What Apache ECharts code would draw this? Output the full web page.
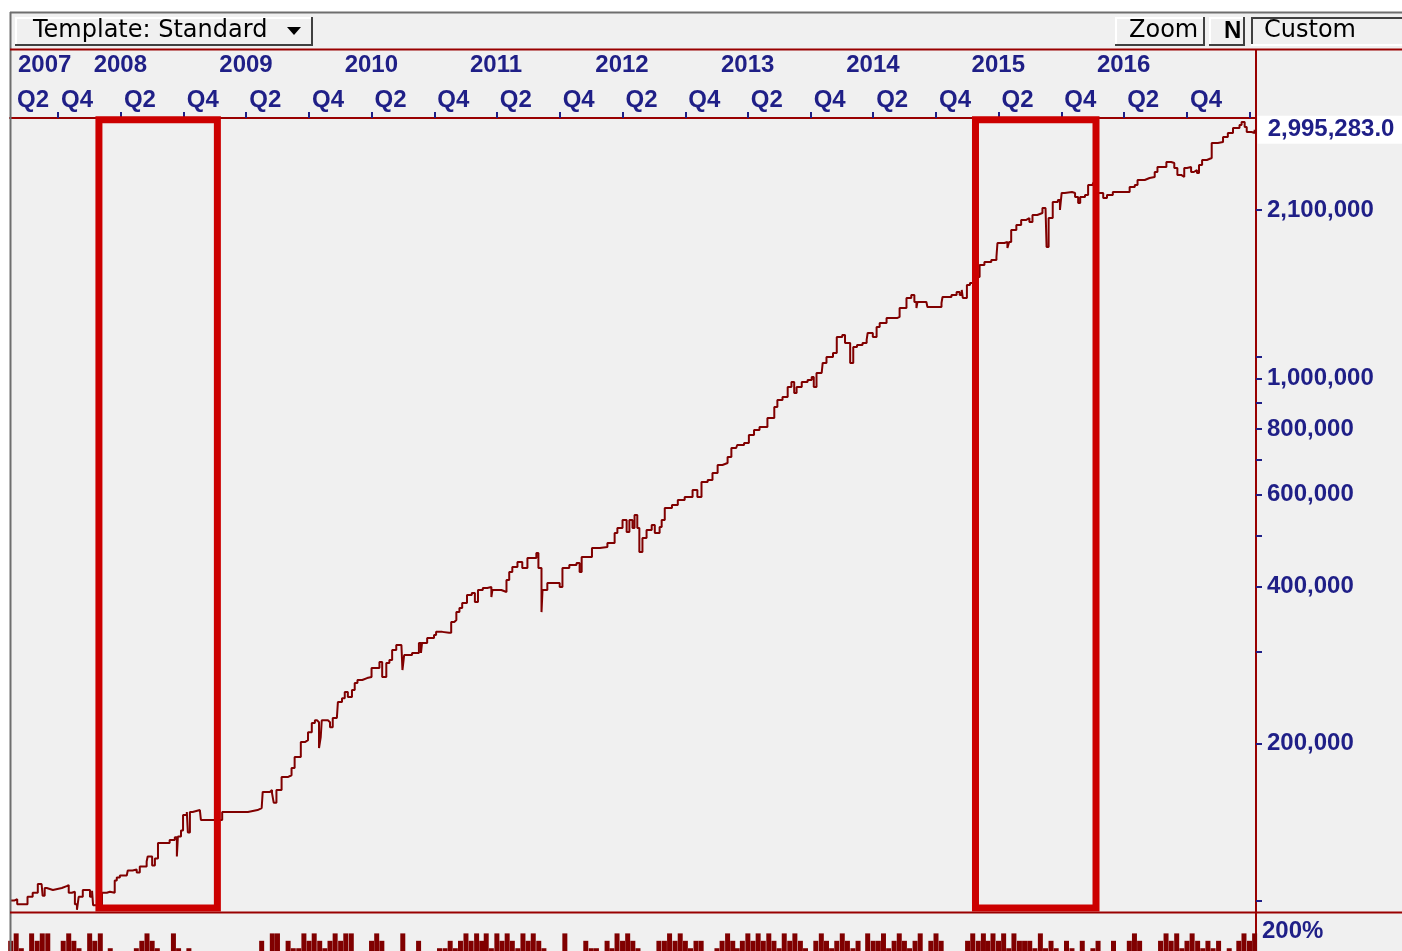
<!DOCTYPE html>
<html><head><meta charset="utf-8">
<script src="https://cdn.jsdelivr.net/npm/echarts@6/dist/echarts.min.js"></script>
<style>html,body{margin:0;padding:0;background:#fff}#chart{width:1402px;height:951px}</style>
</head><body><div id="chart"></div>
<script>
// ---------------- data ----------------
const axisStart = '2007-05-14';
const axisEnd = '2017-04-20';

const equityDates = [
'2007-05-14','2007-05-26','2007-06-04','2007-06-25','2007-07-04','2007-07-19','2007-08-03','2007-08-14','2007-08-17','2007-08-23',
'2007-08-29','2007-09-16','2007-10-12','2007-10-26','2007-11-01','2007-11-10','2007-11-19','2007-11-25','2007-11-30','2007-12-12',
'2007-12-24','2008-01-02','2008-01-08','2008-01-11','2008-02-06','2008-02-20','2008-02-29','2008-03-14','2008-03-20','2008-03-29',
'2008-04-18','2008-04-21','2008-05-05','2008-05-17','2008-05-26','2008-06-15','2008-06-18','2008-07-01','2008-07-09','2008-07-18',
'2008-08-21','2008-09-05','2008-09-11','2008-09-14','2008-09-23','2008-09-29','2008-10-10','2008-10-13','2008-10-19','2008-10-27',
'2008-11-17','2008-11-20','2008-12-23','2009-01-21','2009-04-06','2009-04-11','2009-05-04','2009-05-16','2009-05-19','2009-06-09',
'2009-06-15','2009-06-20','2009-06-28','2009-07-07','2009-07-13','2009-07-31','2009-08-11','2009-08-20','2009-08-29','2009-09-07',
'2009-09-19','2009-09-28','2009-10-09','2009-10-18','2009-10-24','2009-10-30','2009-11-04','2009-11-07','2009-11-25','2009-12-01',
'2009-12-09','2009-12-21','2009-12-24','2010-01-05','2010-01-13','2010-01-22','2010-02-03','2010-02-11','2010-02-19','2010-03-05',
'2010-03-19','2010-04-01','2010-04-15','2010-04-24','2010-05-02','2010-05-14','2010-05-23','2010-05-31','2010-06-12','2010-06-27',
'2010-06-30','2010-07-05','2010-07-28','2010-08-17','2010-08-23','2010-08-26','2010-09-10','2010-09-30','2010-10-06','2010-10-24',
'2010-11-13','2010-11-19','2010-11-28','2010-12-04','2010-12-13','2010-12-21','2011-01-04','2011-01-18','2011-01-27','2011-02-05',
'2011-02-19','2011-03-04','2011-03-16','2011-03-19','2011-04-14','2011-04-29','2011-05-07','2011-05-16','2011-05-31','2011-06-14',
'2011-06-29','2011-07-19','2011-07-25','2011-07-31','2011-08-09','2011-08-12','2011-08-26','2011-09-21','2011-10-01','2011-10-09',
'2011-10-29','2011-11-19','2011-11-28','2011-12-04','2011-12-19','2012-01-03','2012-01-26','2012-02-17','2012-03-09','2012-03-17',
'2012-04-01','2012-04-13','2012-04-21','2012-04-30','2012-05-06','2012-05-14','2012-05-20','2012-05-29','2012-06-10','2012-06-25',
'2012-07-04','2012-07-18','2012-07-24','2012-08-02','2012-08-23','2012-09-09','2012-09-29','2012-10-22','2012-11-05','2012-11-17',
'2012-12-05','2012-12-19','2013-01-03','2013-01-17','2013-02-01','2013-02-12','2013-02-26','2013-03-01','2013-03-21','2013-04-04',
'2013-04-19','2013-05-05','2013-05-28','2013-06-17','2013-06-26','2013-07-11','2013-07-26','2013-08-06','2013-08-14','2013-08-21',
'2013-09-05','2013-09-22','2013-10-04','2013-10-10','2013-10-18','2013-11-02','2013-11-05','2013-11-16','2013-12-05','2013-12-16',
'2014-01-01','2014-01-09','2014-01-24','2014-02-02','2014-02-13','2014-03-01','2014-03-13','2014-03-16','2014-03-31','2014-04-11',
'2014-04-20','2014-05-10','2014-05-27','2014-06-11','2014-06-17','2014-07-07','2014-07-21','2014-07-30','2014-08-05','2014-08-08',
'2014-09-03','2014-09-06','2014-09-27','2014-10-17','2014-10-20','2014-11-15','2014-11-30','2014-12-09','2014-12-15','2014-12-18',
'2014-12-30','2015-01-08','2015-01-22','2015-02-05','2015-02-19','2015-03-11','2015-03-26','2015-03-29','2015-04-18','2015-04-27',
'2015-05-02','2015-05-08','2015-05-23','2015-06-06','2015-06-21','2015-06-30','2015-07-09','2015-07-23','2015-08-07','2015-08-16',
'2015-08-19','2015-08-25','2015-09-06','2015-09-21','2015-09-27','2015-10-02','2015-10-11','2015-11-01','2015-11-10','2015-11-19',
'2015-11-25','2015-12-09','2015-12-18','2016-01-01','2016-01-15','2016-01-31','2016-02-11','2016-02-28','2016-04-03','2016-04-17',
'2016-05-02','2016-05-10','2016-05-31','2016-06-14','2016-06-29','2016-07-07','2016-08-02','2016-08-16','2016-08-25','2016-09-03',
'2016-09-14','2016-09-23','2016-10-01','2016-10-13','2016-10-21','2016-10-30','2016-11-05','2016-11-14','2016-11-28','2016-12-12',
'2016-12-30','2017-01-14','2017-01-28','2017-02-12','2017-03-03','2017-03-09','2017-03-18','2017-03-24','2017-04-07','2017-04-16'
];
const equityValues = [
100000,100600,98400,98400,101700,103500,107600,108100,102200,105700,
104800,105700,106600,107100,103500,104000,98400,96000,101700,104800,
104800,101700,104400,98000,103500,104000,103500,109300,110700,111700,
111700,114200,114700,113200,116200,118800,121500,116700,120400,128900,
130600,132200,121500,132700,136300,145800,147800,135100,147800,149100,
149100,142700,142700,147800,147800,149100,150400,150400,161500,162900,
160800,154000,162900,162900,172400,173800,179400,188300,188300,201200,
202900,210200,218800,221500,219600,196000,205700,221500,219600,214900,
223700,224700,240000,244200,250800,245400,253000,261000,264500,266800,
268000,278800,278800,286300,268000,285100,289000,301900,308600,308600,
276400,295300,298000,311300,298000,311300,318300,322800,327100,325700,
325700,341600,344600,356900,363400,371500,384800,388300,373200,393400,
397000,398700,381400,393400,390000,411100,425900,435400,445100,433400,
453000,453000,463100,433400,356900,393400,405700,405700,398700,433400,
439200,443100,425900,455000,455000,473400,475500,484000,505900,517100,
535700,508100,535700,517100,547600,517100,465100,494800,512600,524000,
505900,519400,535700,564800,572400,585100,592900,611500,592900,633400,
639100,659100,682800,688800,707200,735900,735900,745700,752400,779400,
796700,807300,840000,881800,909500,921500,963100,984600,938000,963100,
984600,993400,1006600,963100,1024500,1029000,1070800,1099400,1119000,1200800,
1211500,1169500,1070800,1148900,1159200,1169500,1185100,1222300,1200800,1254900,
1277400,1305800,1305800,1311600,1364600,1426100,1445200,1401100,1364600,1401100,
1401100,1370600,1370600,1395100,1432400,1445200,1464400,1445200,1477500,1426100,
1510400,1523800,1564600,1649600,1671500,1686500,1708800,1817700,1825600,1778000,
1825600,1925000,1967900,2011800,2029500,1994000,2056700,2074900,2121000,2130400,
1785800,2030000,2177800,2197300,2102500,2266200,2276000,2266200,2226400,2168400,
2226400,2246300,2347500,2368300,2266200,2216700,2246300,2276000,2276000,2326800,
2347500,2399900,2421000,2432000,2486000,2541300,2598000,2586600,2530000,2453400,
2432000,2530000,2541300,2486000,2508000,2475000,2564100,2621200,2644000,2825300,
2838000,2900800,2952700,3018400,3058800,3099300,3032000,2966000,2952700,2995283
];

// highlighted periods (red frames)
const highlightStarts = ['2008-01-28', '2015-01-24'];
const highlightEnds = ['2009-01-07', '2016-01-10'];

// lower panel (percent bars, clipped at the window edge)
const exposureMonths = [
'2007-05','2007-06','2007-07','2007-08','2007-09','2007-10','2007-11','2007-12',
'2008-01','2008-02','2008-03','2008-04','2008-05','2008-06','2008-07','2008-08','2008-09','2008-10','2008-11','2008-12',
'2009-01','2009-02','2009-03','2009-04','2009-05','2009-06','2009-07','2009-08','2009-09','2009-10','2009-11','2009-12',
'2010-01','2010-02','2010-03','2010-04','2010-05','2010-06','2010-07','2010-08','2010-09','2010-10','2010-11','2010-12',
'2011-01','2011-02','2011-03','2011-04','2011-05','2011-06','2011-07','2011-08','2011-09','2011-10','2011-11','2011-12',
'2012-01','2012-02','2012-03','2012-04','2012-05','2012-06','2012-07','2012-08','2012-09','2012-10','2012-11','2012-12',
'2013-01','2013-02','2013-03','2013-04','2013-05','2013-06','2013-07','2013-08','2013-09','2013-10','2013-11','2013-12',
'2014-01','2014-02','2014-03','2014-04','2014-05','2014-06','2014-07','2014-08','2014-09','2014-10','2014-11','2014-12',
'2015-01','2015-02','2015-03','2015-04','2015-05','2015-06','2015-07','2015-08','2015-09','2015-10','2015-11','2015-12',
'2016-01','2016-02','2016-03','2016-04','2016-05','2016-06','2016-07','2016-08','2016-09','2016-10','2016-11','2016-12',
'2017-01','2017-02','2017-03','2017-04'
];
const exposureEarly = [
0,178,0,170,178,0,178,162,
178,178,162,0,0,170,170,0,178,0,0,0,
0,0,0,0,0,0,178,170,162,170,170,170,
170,178,0,170,170,0,178,0,0,0,162,162,
178,178,178,178,178,162,170,170,0,0,0,0,
162,0,162,170,170,0,0,170,170,170,170,0,
162,178,162,178,178,178,162,170,170,0,178,162,
178,162,0,170,178,170,170,170,0,178,0,0,
170,170,170,170,162,170,170,178,170,0,162,170,
162,0,170,0,178,0,0,178,178,170,170,170,
170,162,170,170
];
const exposureLate = [
170,162,178,178,0,170,170,0,
170,0,0,0,162,178,162,0,162,162,0,0,
0,0,0,0,170,178,0,162,178,178,162,178,
178,0,0,178,0,0,0,170,0,162,170,170,
170,170,162,170,170,178,178,162,0,178,0,170,
162,170,178,178,162,0,170,178,178,162,170,0,
170,170,170,170,170,170,178,178,162,170,170,170,
170,170,178,170,162,178,162,178,170,170,0,0,
178,178,178,178,178,170,162,162,162,170,0,0,
170,0,0,170,170,0,170,170,162,178,162,162,
0,0,178,178
];

// axis ticks / labels
const quarterTickDates = ['2007-10-01','2008-04-01','2008-10-01','2009-04-01','2009-10-01','2010-04-01','2010-10-01','2011-04-01','2011-10-01','2012-04-01','2012-10-01','2013-04-01','2013-10-01','2014-04-01','2014-10-01','2015-04-01','2015-10-01','2016-04-01','2016-10-01','2017-04-01'];
const quarterLabelDates = ['2007-05-14','2007-10-01','2008-04-01','2008-10-01','2009-04-01','2009-10-01','2010-04-01','2010-10-01','2011-04-01','2011-10-01','2012-04-01','2012-10-01','2013-04-01','2013-10-01','2014-04-01','2014-10-01','2015-04-01','2015-10-01','2016-04-01','2016-10-01'];
const yearLabelDates = ['2007-05-14','2008-01-01','2009-01-01','2010-01-01','2011-01-01','2012-01-01','2013-01-01','2014-01-01','2015-01-01','2016-01-01'];
const yTickValues = [100000,200000,300000,400000,500000,600000,700000,800000,900000,1000000,1100000,2100000];
const yLabelValues = [200000,400000,600000,800000,1000000,2100000];
const yMin = 95100, yMax = 3154000;
const exposureLabelValues = [200];
const exposureMin = 159, exposureMax = 200;

// ---------------- chart ----------------
const NAVY = '#1f1f87';
const AXRED = '#990000';
const LINE = '#800000';
const FONT = '"Liberation Sans", Arial, sans-serif';
const UI_FONT = '"DejaVu Sans", Verdana, sans-serif';
const ts = s => Date.parse(s);
const xMin = ts(axisStart), xMax = ts(axisEnd);
function commas(n, dec) {
  const s = dec ? n.toFixed(dec) : String(Math.round(n));
  const parts = s.split('.');
  parts[0] = parts[0].replace(/\B(?=(\d{3})+(?!\d))/g, ',');
  return parts.join('.');
}
const labelText = { color: NAVY, fontFamily: FONT, fontWeight: 'bold', fontSize: 24 };
const firstRich = { first: Object.assign({ padding: [0, 0, 0, 4] }, labelText) };

const equityData = equityDates.map((d, i) => [ts(d), equityValues[i]]);
const barData = [];
exposureMonths.forEach((m, i) => {
  barData.push([ts(m + '-01'), exposureEarly[i] || null]);
  barData.push([ts(m + '-16'), exposureLate[i] || null]);
});
const areas = highlightStarts.map((s, i) => [
  { xAxis: ts(s), yAxis: 3130000 },
  { xAxis: ts(highlightEnds[i]), yAxis: 96800 }
]);

function btn(x, y, w, h, sunken) {
  const light = sunken ? '#404040' : '#ffffff';
  const dark = sunken ? '#ffffff' : '#404040';
  return [
    { type: 'rect', shape: { x, y, width: w, height: h }, style: { fill: '#f0f0f0' }, z: 1 },
    { type: 'line', shape: { x1: x, y1: y + 1, x2: x + w, y2: y + 1 }, style: { stroke: light, lineWidth: 2 }, z: 2 },
    { type: 'line', shape: { x1: x + 1, y1: y, x2: x + 1, y2: y + h }, style: { stroke: light, lineWidth: 2 }, z: 2 },
    { type: 'line', shape: { x1: x, y1: y + h - 1, x2: x + w, y2: y + h - 1 }, style: { stroke: dark, lineWidth: 2 }, z: 2 },
    { type: 'line', shape: { x1: x + w - 1, y1: y, x2: x + w - 1, y2: y + h }, style: { stroke: dark, lineWidth: 2 }, z: 2 }
  ];
}
function txt(x, y, text, font, weight) {
  return { type: 'text', x, y, z: 3, style: { text, fill: '#000', fontFamily: font, fontSize: 24, fontWeight: weight || 'normal', textVerticalAlign: 'middle', verticalAlign: 'middle' } };
}

const graphics = [
  { type: 'rect', shape: { x: 10, y: 12, width: 1392, height: 939 }, style: { fill: '#f0f0f0' }, z: -100 },
  { type: 'line', shape: { x1: 10, y1: 12.5, x2: 1402, y2: 12.5 }, style: { stroke: '#6e6e6e', lineWidth: 2 }, z: 5 },
  { type: 'line', shape: { x1: 10.5, y1: 12, x2: 10.5, y2: 951 }, style: { stroke: '#6e6e6e', lineWidth: 2 }, z: 5 },
  { type: 'line', shape: { x1: 10, y1: 49.5, x2: 1402, y2: 49.5 }, style: { stroke: AXRED, lineWidth: 2 }, z: 5 },
  { type: 'line', shape: { x1: 1256, y1: 49, x2: 1256, y2: 118 }, style: { stroke: AXRED, lineWidth: 2 }, z: 5 },
  { type: 'line', shape: { x1: 10, y1: 912.5, x2: 1402, y2: 912.5 }, style: { stroke: AXRED, lineWidth: 2 }, z: 5 },
  ...btn(15, 17, 298, 29, false),
  txt(33, 31, 'Template: Standard', UI_FONT),
  { type: 'polygon', shape: { points: [[287, 27], [301, 27], [294, 35]] }, style: { fill: '#000' }, z: 3 },
  ...btn(1115, 17, 90, 29, false),
  txt(1129, 31, 'Zoom', UI_FONT),
  ...btn(1209, 17, 36, 29, false),
  txt(1224, 31, 'N', FONT, 'bold'),
  ...btn(1251, 17, 160, 29, true),
  txt(1264, 31, 'Custom', UI_FONT)
];

const chart = echarts.init(document.getElementById('chart'), null, { renderer: 'canvas' });
chart.setOption({
  animation: false,
  backgroundColor: '#ffffff',
  graphic: graphics,
  grid: [
    { left: 10, right: 146, top: 118, height: 794 },
    { left: 10, right: 146, top: 913, bottom: 0 }
  ],
  xAxis: [
    {
      type: 'value', gridIndex: 0, position: 'top', min: xMin, max: xMax,
      axisLine: { show: true, lineStyle: { color: AXRED, width: 2 } },
      axisTick: { show: true, inside: false, length: 6, lineStyle: { color: NAVY, width: 2 }, customValues: quarterTickDates.map(ts) },
      axisLabel: Object.assign({
        show: true, margin: 6, align: 'left', padding: [0, 0, 0, 3],
        customValues: quarterLabelDates.map(ts),
        rich: firstRich,
        formatter: v => {
          const q = 'Q' + (Math.floor(new Date(v).getUTCMonth() / 3) + 1);
          return v === xMin ? '{first|' + q + '}' : q;
        }
      }, labelText),
      splitLine: { show: false }
    },
    {
      type: 'value', gridIndex: 0, position: 'top', offset: 35, min: xMin, max: xMax,
      axisLine: { show: false }, axisTick: { show: false },
      axisLabel: Object.assign({
        show: true, margin: 6, align: 'left', padding: [0, 0, 0, 4],
        customValues: yearLabelDates.map(ts),
        rich: firstRich,
        formatter: v => {
          const y = String(new Date(v).getUTCFullYear());
          return v === xMin ? '{first|' + y + '}' : y;
        }
      }, labelText),
      splitLine: { show: false }
    },
    { type: 'value', gridIndex: 1, min: xMin, max: xMax, show: false }
  ],
  yAxis: [
    {
      type: 'log', logBase: 10, gridIndex: 0, position: 'right', min: yMin, max: yMax,
      axisLine: { show: true, lineStyle: { color: AXRED, width: 2 } },
      axisTick: { show: false }, axisLabel: { show: false }, splitLine: { show: false }, minorTick: { show: false }
    },
    {
      type: 'value', gridIndex: 0, position: 'right', min: Math.log10(yMin), max: Math.log10(yMax),
      axisLine: { show: false },
      axisTick: { show: true, length: 6, lineStyle: { color: NAVY, width: 2 }, customValues: yTickValues.map(v => Math.log10(v)) },
      axisLabel: Object.assign({
        show: true, margin: 11,
        customValues: yLabelValues.map(v => Math.log10(v)),
        formatter: v => commas(Math.round(Math.pow(10, v) / 1000) * 1000)
      }, labelText),
      splitLine: { show: false }
    },
    {
      type: 'value', gridIndex: 1, position: 'right', min: exposureMin, max: exposureMax,
      axisLine: { show: true, lineStyle: { color: AXRED, width: 2 } },
      axisTick: { show: false },
      axisLabel: Object.assign({
        show: true, margin: 6, verticalAlign: 'top', padding: [6, 0, 0, 0],
        customValues: exposureLabelValues,
        formatter: v => v + '%'
      }, labelText),
      splitLine: { show: false }
    }
  ],
  series: [
    {
      type: 'line', name: 'Equity', xAxisIndex: 0, yAxisIndex: 0,
      data: equityData, step: 'end', showSymbol: false, symbol: 'none',
      lineStyle: { color: LINE, width: 2 }, z: 3,
      emphasis: { disabled: true }, silent: true,
      endLabel: Object.assign({
        show: true, distance: 3, backgroundColor: '#ffffff', padding: [3, 40, 1, 10],
        formatter: p => commas(p.value[1], 1)
      }, labelText),
      markArea: {
        silent: true, z: 6,
        label: { show: false },
        itemStyle: { color: 'rgba(0,0,0,0)', borderColor: '#cc0000', borderWidth: 7 },
        emphasis: { disabled: true },
        data: areas
      }
    },
    {
      type: 'bar', name: 'Exposure', xAxisIndex: 2, yAxisIndex: 2,
      data: barData, barWidth: 5, itemStyle: { color: LINE }, silent: true
    }
  ]
});
</script>
</body></html>
